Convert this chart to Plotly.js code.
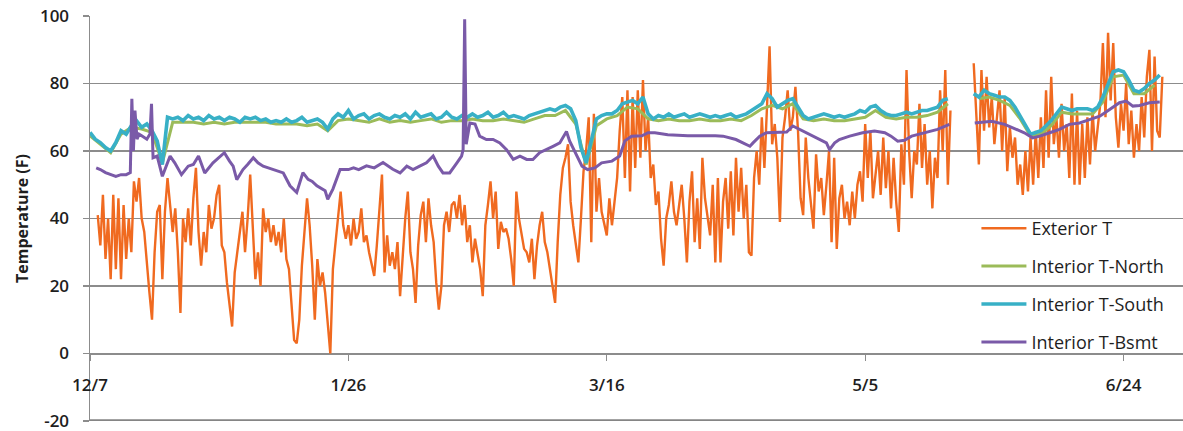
<!DOCTYPE html>
<html><head><meta charset="utf-8">
<script src="https://cdn.plot.ly/plotly-3.0.1.min.js"></script>
<style>html,body{margin:0;padding:0;background:#fff}#chart{width:1183px;height:431px}</style>
</head><body><div id="chart"></div>
<script>
// ---- data (days counted from 12/7) ----
const tickDays = [0, 50, 100, 150, 200];
const tickLabels = ['12/7', '1/26', '3/16', '5/5', '6/24'];
const yTickVals = [-20, 0, 20, 40, 60, 80, 100];
const yTickLabels = ['-20', '0', '20', '40', '60', '80', '100'];

// Exterior T: readings every half day, starting day 1.5
const extStartDay = 1.5;
const extStepDay = 0.5;
const exteriorT = [
  41,32,47,28,40,22,47,25,46,22,
  44,28,40,30,51,45,52,40,36,26,
  18,10,30,42,44,22,42,52,45,36,
  43,30,12,40,33,43,32,46,55,36,
  26,36,30,44,37,40,47,50,32,30,
  21,15,8,24,30,36,42,30,40,53,
  36,22,30,20,43,36,40,33,38,32,
  36,30,40,28,25,13,4,3,10,26,
  35,46,38,26,10,28,20,24,18,8,
  0,25,32,40,48,38,34,38,32,40,
  34,36,43,33,35,30,26,23,32,44,
  53,24,35,26,30,25,33,17,30,40,
  48,30,25,15,32,41,45,33,46,38,
  33,21,13,20,38,42,36,44,45,40,
  47,38,44,33,38,27,34,30,25,17,
  38,44,51,40,48,31,39,36,37,34,
  28,20,48,40,35,31,30,27,34,22,
  32,38,42,33,30,25,20,15,33,47,
  55,58,62,45,38,33,27,40,54,60,
  70,33,71,42,52,42,38,35,46,38,
  45,52,66,76,52,78,48,76,55,78,
  58,81,60,70,52,56,44,48,34,26,
  40,44,51,42,38,45,50,40,27,45,
  54,33,46,31,58,46,40,35,50,27,
  52,27,45,52,37,54,35,58,42,55,
  40,50,30,29,52,60,50,70,55,74,
  91,62,68,58,39,64,70,78,66,70,
  79,66,46,41,64,52,44,37,59,48,
  52,41,50,60,33,58,31,46,50,40,
  45,38,48,40,50,54,45,68,52,66,
  46,54,60,47,64,49,60,43,58,45,
  36,62,50,84,60,46,60,56,74,55,
  68,50,60,43,58,52,78,60,84,50,
  72,null,null,null,null,null,null,null,null,86,
  72,56,84,66,82,67,76,62,70,78,
  60,76,54,67,58,64,50,56,47,60,
  48,64,50,66,52,70,55,78,58,82,
  62,70,58,74,60,68,52,77,50,72,
  50,68,52,70,56,72,60,68,74,92,
  70,95,75,92,70,61,74,66,80,62,
  72,58,68,60,76,64,82,90,60,88,
  66,64,82
];

// Interior T-South: daily readings from day 0
const southStepDay = 1;
const southT = [
  65.5,63.5,62.5,61,60,62.5,66,65,67.5,69,
  67,68,66,63,56,70,69.5,70,69,70.5,
  69.5,70,69,70.5,69.5,70,69,70,69.5,68.5,
  70,69.5,70,69,69.5,68.5,69,68.5,69.5,68.5,
  69,70,68.5,69,69.5,68.5,66.5,69.5,71,70,
  72,69.5,70.5,71,69.5,70.5,71,70,69.5,70.5,
  70,71,69.5,71.5,70,70.5,71,69.5,70,71.5,
  70,69.5,70.5,70,71,70,70.5,71.5,70,70.5,
  71.5,70,70.5,70,69.5,70.5,71,71.5,72,72.5,
  72,73,73.5,72.5,69,61,56.5,63,69.5,70.5,
  71,71,72,74,74.5,75,74,76,71,69.5,
  70.5,70,71,70,70.5,71,70,70.5,71,70.5,
  70,70.5,70,70.5,71,70,70.5,71,72,73,
  74,77,75.5,73,74,75,75.5,73,70.5,69.5,
  70,70.5,71,70.5,70,70.5,70,70.5,71,72,
  71.5,73,73.5,72,71,70.5,70.5,71,71.5,71,
  71.5,72,72,72.5,73,75,75.5,null,null,null,
  null,77,76,78,77,76.5,76,76,75,73,
  70.5,67.5,65,65.5,66,67.5,69,71,73,72.5,
  72,72.5,72.5,72.5,72,73,76,80,83.5,84,
  83.5,81,78,77.5,78.5,80,81,82.5
];

// Interior T-North: readings every 2 days from day 0
const northStepDay = 2;
const northT = [
  64.5,62,59.5,65,67,66.5,65.5,56.5,68.5,68.5,
  68.5,68,68.5,68,68.5,68.5,68.5,68.5,68,68,
  68,67.5,68,66,69,69.5,69,68.5,69.5,68.5,
  69,68.5,69,69.5,68.5,69,69,69.5,69,69,
  69.5,69,68.5,69.5,70.5,70.5,72,68,56,67.5,
  69.5,70.5,73,72.5,69.5,69,69.5,69,69,69.5,
  69,69,69.5,69,70.5,72.5,73.5,72.5,74,69.5,
  69,69.5,69,69,69.5,70,72,70,69.5,70,
  70,70.5,71.5,74,null,null,75.5,76,75,73.5,
  69.5,64.5,65,67.5,71.5,71,71,71,74.5,82,
  82.5,77,77,79.5
];

// Interior T-Bsmt: irregular readings (day, value)
const bsmtDays = [
  1.2,2,3,4,5,6,7,7.8,8.1,8.4,
  8.7,9.1,9.5,10,11,11.6,11.9,12.2,13,14,
  14.5,15.5,16.4,17.7,19,20,21,22.2,23.8,25,
  26,27,27.7,28.4,29.6,30.5,31.6,32.5,33.5,34.5,
  35.4,36.5,37.4,38.7,40,41.2,42.2,43,43.9,45.5,
  46,47,48.4,50,51,52,53.5,55,56.7,58.6,
  60,61.3,62.5,63.8,65.1,66.4,67.4,68.3,69.6,71,
  71.9,72.2,72.5,72.8,73.5,74.5,75.4,76.7,78,79.3,
  80.6,81.9,83.2,84.5,85.7,87,88.4,89.6,90.9,92.2,
  92.8,93.8,95.2,96.3,97.7,99,101,102.5,103.5,104.8,
  106.8,108,109.3,111.8,115.7,121,122.5,125,126.3,127.7,
  128.3,129.6,130.9,132.8,134.8,136,137.3,138.6,139.9,141.2,
  142.5,143.1,144.1,145,147,149.5,151.8,153.8,155,156.3,
  157.6,159,161.5,164,166.3,169,171.2,174.5,177,179.5,
  180.8,182.4,183.8,185.7,187.6,189.5,191.5,193.4,195.4,197.3,
  199.2,200.5,201.8,203.1,205,207
];
const bsmtT = [
  55,54.5,53.6,53,52.5,53,53,53.6,75.5,60,
  72,63.5,65,64.5,63.5,65,74,58,58.5,52.5,
  54.5,58.5,56.5,53,55.5,56,58.5,53.5,56.5,58,
  59.5,57,55.5,51.5,54.5,56,58,56.5,55.5,55,
  54.5,54,53.5,49.7,47.7,53.6,51.6,51,49.7,48.2,
  45.7,48.7,54.5,54.5,55,54.5,55.6,55,56.6,54.6,
  53.5,55.5,54.5,55.5,56.5,58.5,55.5,53.5,53.5,56.5,
  58.5,60.4,99,62,68.3,68,64.4,63.4,63.4,62.4,
  60.4,57.5,58.5,57.5,57.5,59.5,60.4,61.4,62.4,65.8,
  63,60,55.5,54.5,55,56.5,57,58.5,63,64.4,
  64.5,65.4,65.4,64.8,64.5,64.5,64.4,63.4,62.4,61.4,
  62.4,64.4,65.4,65.4,65.6,67.4,66.4,65.4,64.4,63.4,
  62.4,60.4,62.4,63.4,64.4,65.4,65.9,65.4,64.4,62.9,
  63.2,64.4,65.4,66.4,67.9,null,68.3,68.8,67.9,66.4,
  65.4,63.9,64.4,65.4,66.4,67.9,68.3,69.3,70.3,72.3,
  74.3,74.8,73.3,73.5,74.3,74.5
];

// ---- helpers ----
const BASE = Date.UTC(2011, 11, 7);
function dayToDate(d) {
  return new Date(BASE + d * 86400000).toISOString().slice(0, 19).replace('T', ' ');
}
function gridDates(start, step, n) {
  const out = [];
  for (let i = 0; i < n; i++) out.push(dayToDate(start + i * step));
  return out;
}

const FONT = 'Open Sans, Liberation Sans, Arial, sans-serif';
const GRID = '#8c8c8c';

const traces = [
  {name: 'Exterior T', x: gridDates(extStartDay, extStepDay, exteriorT.length), y: exteriorT,
   mode: 'lines', line: {color: '#f06a20', width: 2.4}, legendgroup: 'a'},
  {name: 'Interior T-North', x: gridDates(0, northStepDay, northT.length), y: northT,
   mode: 'lines', line: {color: '#9bbb59', width: 3}, legendgroup: 'b'},
  {name: 'Interior T-South', x: gridDates(0, southStepDay, southT.length), y: southT,
   mode: 'lines', line: {color: '#38b0c6', width: 3.6}, legendgroup: 'c'},
  {name: 'Interior T-Bsmt', x: bsmtDays.map(dayToDate), y: bsmtT,
   mode: 'lines', line: {color: '#7a5aa8', width: 3}, legendgroup: 'd'}
];

const layout = {
  width: 1183, height: 431,
  margin: {l: 90, r: 0, t: 16, b: 10},
  paper_bgcolor: '#fff', plot_bgcolor: '#fff',
  font: {family: FONT, color: '#1e1e1e'},
  showlegend: true,
  legend: {
    x: 0.811, y: 0.521, xanchor: 'left', yanchor: 'top',
    bgcolor: 'rgba(0,0,0,0)', borderwidth: 0,
    font: {family: FONT, size: 18, color: '#1e1e1e'},
    traceorder: 'grouped', tracegroupgap: 11.5, itemwidth: 45
  },
  xaxis: {
    type: 'date',
    range: [dayToDate(0), dayToDate(211.5)],
    tickvals: tickDays.map(dayToDate), ticktext: tickLabels,
    showgrid: false, zeroline: false,
    showline: true, linecolor: GRID, linewidth: 1.5,
    ticks: 'outside', ticklen: 6, tickcolor: GRID, tickwidth: 1.2,
    anchor: 'free', position: 1 / 6,
    ticklabelstandoff: 10,
    tickfont: {family: FONT, size: 17, color: '#1e1e1e', weight: 600}
  },
  yaxis: {
    range: [-20, 100],
    tickmode: 'array', tickvals: yTickVals, ticktext: yTickLabels,
    showgrid: true, gridcolor: GRID, gridwidth: 1.3,
    zeroline: false,
    showline: true, linecolor: GRID, linewidth: 1.5,
    ticks: 'outside', ticklen: 6, tickcolor: GRID, tickwidth: 1.2,
    ticklabelstandoff: 10, ticklabeloverflow: 'allow',
    tickfont: {family: FONT, size: 17, color: '#1e1e1e', weight: 600},
    title: {text: 'Temperature (F)', standoff: 7.5,
            font: {family: FONT, size: 16, color: '#1e1e1e', weight: 700}}
  },
  // bottom frame line of the plot area, just inside the lowest y tick
  shapes: [{type: 'line', xref: 'paper', yref: 'y', x0: 0, x1: 1,
            y0: -19.75, y1: -19.75, layer: 'above', line: {color: '#858585', width: 1.6}}]
};

Plotly.newPlot('chart', traces, layout, {staticPlot: true, displayModeBar: false});
</script>
</body></html>
